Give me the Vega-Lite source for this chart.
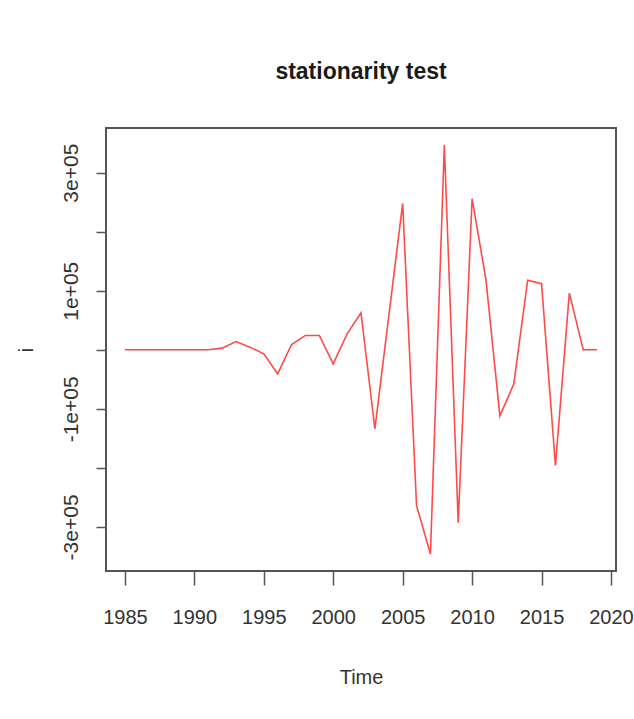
{
  "$schema": "https://vega.github.io/schema/vega-lite/v6.json",
  "width": 510,
  "height": 443,
  "autosize": "none",
  "padding": {"left": 106, "top": 128, "right": 18, "bottom": 148},
  "background": "white",
  "title": {
    "text": "stationarity test",
    "font": "Liberation Sans",
    "fontSize": 23,
    "fontWeight": "bold",
    "color": "#1a1a1a",
    "anchor": "middle",
    "offset": 44
  },
  "config": {
    "view": {"stroke": "#555555", "strokeWidth": 2},
    "axis": {"grid": false}
  },
  "data": {
    "values": [
      {"Time": 1985, "i": 0},
      {"Time": 1986, "i": 0},
      {"Time": 1987, "i": 0},
      {"Time": 1988, "i": 0},
      {"Time": 1989, "i": 0},
      {"Time": 1990, "i": 0},
      {"Time": 1991, "i": 0},
      {"Time": 1992, "i": 2800},
      {"Time": 1993, "i": 14000},
      {"Time": 1994, "i": 4500},
      {"Time": 1995, "i": -6800},
      {"Time": 1996, "i": -40700},
      {"Time": 1997, "i": 9000},
      {"Time": 1998, "i": 24300},
      {"Time": 1999, "i": 24300},
      {"Time": 2000, "i": -23800},
      {"Time": 2001, "i": 27000},
      {"Time": 2002, "i": 62800},
      {"Time": 2003, "i": -134000},
      {"Time": 2004, "i": 57000},
      {"Time": 2005, "i": 248000},
      {"Time": 2006, "i": -264000},
      {"Time": 2007, "i": -346000},
      {"Time": 2008, "i": 347000},
      {"Time": 2009, "i": -293000},
      {"Time": 2010, "i": 256000},
      {"Time": 2011, "i": 118000},
      {"Time": 2012, "i": -112000},
      {"Time": 2013, "i": -58000},
      {"Time": 2014, "i": 118000},
      {"Time": 2015, "i": 112000},
      {"Time": 2016, "i": -196000},
      {"Time": 2017, "i": 96000},
      {"Time": 2018, "i": 0},
      {"Time": 2019, "i": 0}
    ]
  },
  "mark": {"type": "line", "color": "#ff4a4a", "strokeWidth": 1.6},
  "encoding": {
    "x": {
      "field": "Time",
      "type": "quantitative",
      "scale": {"domain": [1983.64, 2020.36], "nice": false, "zero": false},
      "axis": {
        "values": [1985, 1990, 1995, 2000, 2005, 2010, 2015, 2020],
        "format": "d",
        "domain": false,
        "tickSize": 14,
        "tickColor": "#555555",
        "tickWidth": 1.5,
        "labelFont": "Liberation Sans",
        "labelFontSize": 20,
        "labelColor": "#333333",
        "labelPadding": 22,
        "labelBaseline": "top",
        "title": "Time",
        "titleFont": "Liberation Sans",
        "titleFontSize": 20,
        "titleFontWeight": "normal",
        "titleColor": "#333333",
        "titlePadding": 40
      }
    },
    "y": {
      "field": "i",
      "type": "quantitative",
      "scale": {"domain": [-374700, 375700], "nice": false, "zero": false},
      "axis": {
        "values": [-300000, -200000, -100000, 0, 100000, 200000, 300000],
        "labelExpr": "datum.value==300000?'3e+05':datum.value==100000?'1e+05':datum.value==-100000?'-1e+05':datum.value==-300000?'-3e+05':''",
        "domain": false,
        "tickSize": 10,
        "tickColor": "#555555",
        "tickWidth": 1.5,
        "labelFont": "Liberation Sans",
        "labelFontSize": 21,
        "labelColor": "#333333",
        "labelAngle": -90,
        "labelAlign": "center",
        "labelBaseline": "bottom",
        "labelPadding": 15,
        "title": "i",
        "titleFont": "Liberation Sans",
        "titleFontSize": 20,
        "titleFontWeight": "normal",
        "titleColor": "#333333",
        "titlePadding": 24
      }
    }
  }
}
